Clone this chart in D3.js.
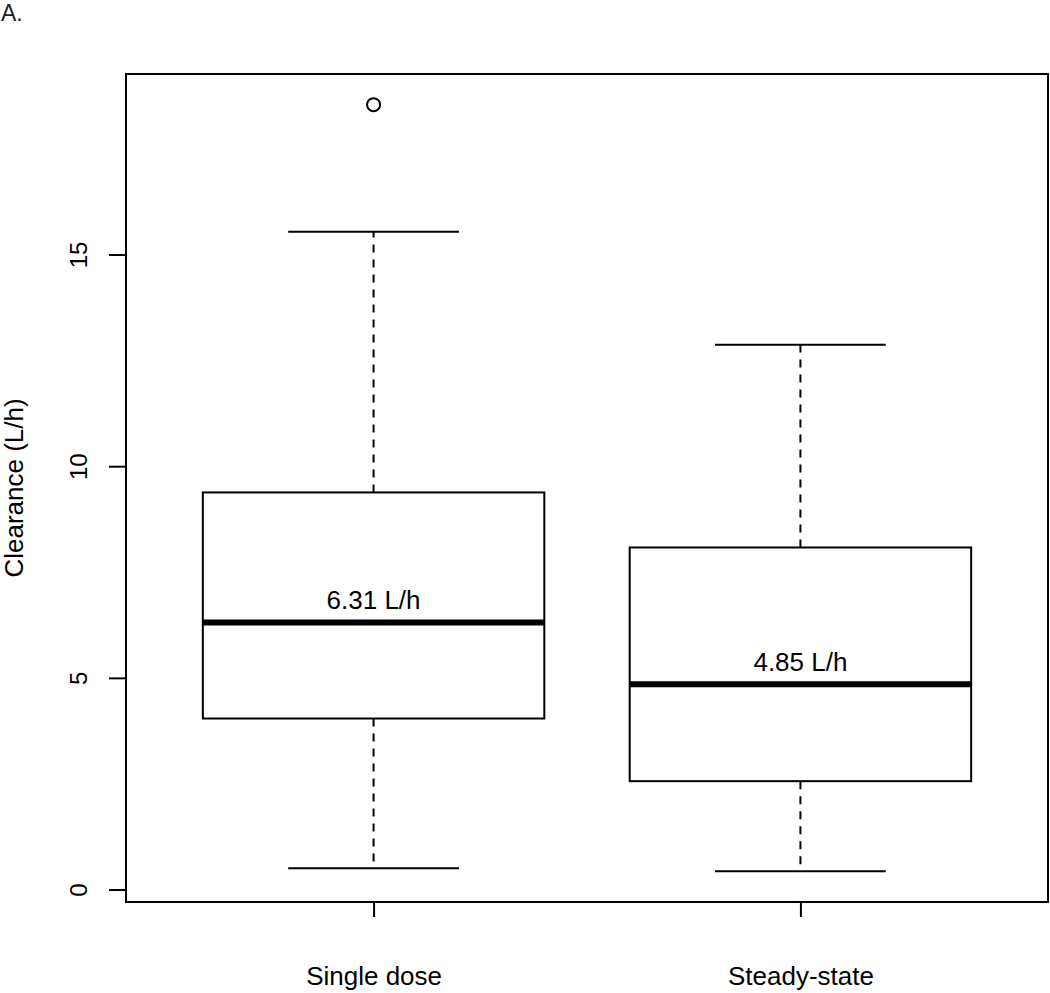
<!DOCTYPE html>
<html>
<head>
<meta charset="utf-8">
<script src="https://cdn.jsdelivr.net/npm/d3@7"></script>
<style>
  body { margin: 0; background: #fff; }
  svg { display: block; font-family: "Liberation Sans", Arial, sans-serif; }
</style>
</head>
<body>
<svg width="1050" height="993"></svg>
<script>
// Data
const groups = ["Single dose", "Steady-state"];
const lowerWhisker = [0.50, 0.43];
const q1 = [4.04, 2.56];
const medians = [6.31, 4.85];
const q3 = [9.38, 8.08];
const upperWhisker = [15.54, 12.87];
const outliers = [[18.54], []];
const medianLabels = ["6.31 L/h", "4.85 L/h"];
const yTicks = [0, 5, 10, 15];

const width = 1050;
const height = 993;
const margin = { top: 74, right: 2, bottom: 91, left: 126 };

const svg = d3.select('svg');

// build one object per box
const boxes = groups.map((g, i) => ({
  name: g,
  pos: i + 1,
  lo: lowerWhisker[i],
  q1: q1[i],
  med: medians[i],
  q3: q3[i],
  hi: upperWhisker[i],
  out: outliers[i],
  label: medianLabels[i]
}));

// R style: x range 0.5..2.5 padded by 4%
const x = d3.scaleLinear()
  .domain([0.42, 2.58])
  .range([margin.left, width - margin.right]);

const allVals = boxes.flatMap(b => [b.lo, b.hi].concat(b.out));
const yMin = d3.min(allVals), yMax = d3.max(allVals);
const pad = (yMax - yMin) * 0.04;
const y = d3.scaleLinear()
  .domain([yMin - pad, yMax + pad])
  .range([height - margin.bottom, margin.top]);

const boxHalf = 0.4;   // boxwex 0.8
const capHalf = 0.2;

// Y axis
const yAxis = svg.append("g")
  .attr("transform", `translate(${margin.left},0)`)
  .call(d3.axisLeft(y).tickValues(yTicks).tickSize(17).tickPadding(0).tickFormat(d3.format("d")));
yAxis.select(".domain").remove();
yAxis.selectAll(".tick line").attr("stroke", "#000").attr("stroke-width", 2);
yAxis.selectAll(".tick text")
  .attr("transform", "rotate(-90)")
  .attr("x", 0)
  .attr("y", -39)
  .attr("dy", 0)
  .attr("text-anchor", "middle")
  .attr("font-size", 24)
  .attr("font-family", "Liberation Sans, Arial, sans-serif")
  .attr("fill", "#000");

// X axis (ticks only, labels placed lower)
const xAxis = svg.append("g")
  .attr("transform", `translate(0,${height - margin.bottom})`)
  .call(d3.axisBottom(x).tickValues(boxes.map(b => b.pos)).tickSize(15).tickFormat((d, i) => groups[i]));
xAxis.select(".domain").remove();
xAxis.selectAll(".tick line").attr("stroke", "#000").attr("stroke-width", 2);
xAxis.selectAll(".tick text")
  .attr("y", 83)
  .attr("dy", 0)
  .attr("font-size", 26)
  .attr("font-family", "Liberation Sans, Arial, sans-serif")
  .attr("fill", "#000");

// plot frame
svg.append("rect")
  .attr("x", margin.left)
  .attr("y", margin.top)
  .attr("width", width - margin.left - margin.right)
  .attr("height", height - margin.top - margin.bottom)
  .attr("fill", "none")
  .attr("stroke", "#000")
  .attr("stroke-width", 2);

// y title
svg.append("text")
  .attr("transform", `translate(23,${(margin.top + height - margin.bottom) / 2}) rotate(-90)`)
  .attr("text-anchor", "middle")
  .attr("font-size", 26)
  .text("Clearance (L/h)");

// panel tag
svg.append("text")
  .attr("x", 1)
  .attr("y", 21)
  .attr("font-size", 23)
  .attr("fill", "#222")
  .text("A.");

const g = svg.selectAll(".box")
  .data(boxes)
  .enter().append("g")
  .attr("class", "box");

// whiskers (dashed)
g.append("line")
  .attr("x1", d => x(d.pos)).attr("x2", d => x(d.pos))
  .attr("y1", d => y(d.q3)).attr("y2", d => y(d.hi))
  .attr("stroke", "#000").attr("stroke-width", 2).attr("stroke-dasharray", "8,7");
g.append("line")
  .attr("x1", d => x(d.pos)).attr("x2", d => x(d.pos))
  .attr("y1", d => y(d.q1)).attr("y2", d => y(d.lo))
  .attr("stroke", "#000").attr("stroke-width", 2).attr("stroke-dasharray", "8,7");

// caps
g.append("line")
  .attr("x1", d => x(d.pos - capHalf)).attr("x2", d => x(d.pos + capHalf))
  .attr("y1", d => y(d.hi)).attr("y2", d => y(d.hi))
  .attr("stroke", "#000").attr("stroke-width", 2);
g.append("line")
  .attr("x1", d => x(d.pos - capHalf)).attr("x2", d => x(d.pos + capHalf))
  .attr("y1", d => y(d.lo)).attr("y2", d => y(d.lo))
  .attr("stroke", "#000").attr("stroke-width", 2);

// box
g.append("rect")
  .attr("x", d => x(d.pos - boxHalf))
  .attr("y", d => y(d.q3))
  .attr("width", d => x(d.pos + boxHalf) - x(d.pos - boxHalf))
  .attr("height", d => y(d.q1) - y(d.q3))
  .attr("fill", "#fff")
  .attr("stroke", "#000")
  .attr("stroke-width", 2);

// median
g.append("line")
  .attr("x1", d => x(d.pos - boxHalf)).attr("x2", d => x(d.pos + boxHalf))
  .attr("y1", d => y(d.med)).attr("y2", d => y(d.med))
  .attr("stroke", "#000").attr("stroke-width", 6);

// median label
g.append("text")
  .attr("x", d => x(d.pos))
  .attr("y", d => y(d.med) - 13)
  .attr("text-anchor", "middle")
  .attr("font-size", 26)
  .text(d => d.label);

// outliers
g.selectAll("circle")
  .data(d => d.out.map(v => ({ pos: d.pos, v: v })))
  .enter().append("circle")
  .attr("cx", d => x(d.pos))
  .attr("cy", d => y(d.v))
  .attr("r", 6.5)
  .attr("fill", "none")
  .attr("stroke", "#000")
  .attr("stroke-width", 2);
</script>
</body>
</html>
